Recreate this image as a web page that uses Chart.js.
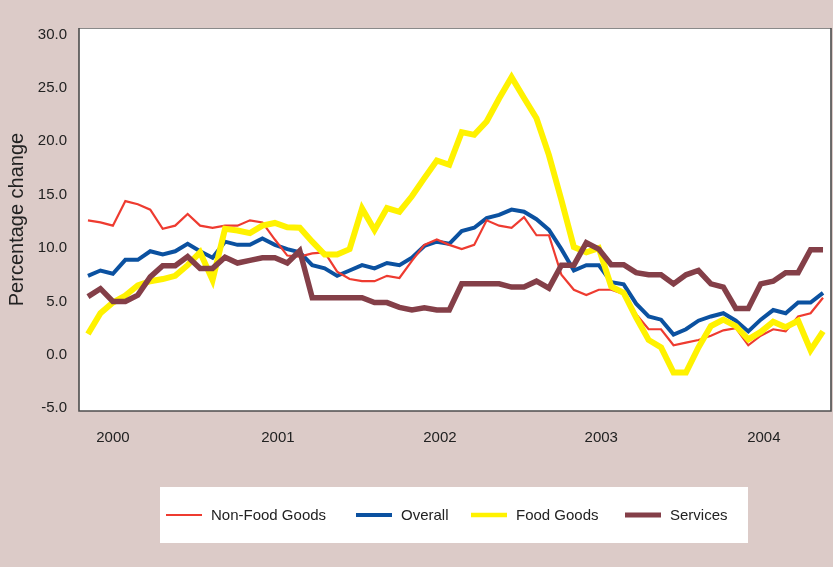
<!DOCTYPE html>
<html>
<head>
<meta charset="utf-8">
<script src="https://cdn.jsdelivr.net/npm/chart.js@4.4.1/dist/chart.umd.min.js"></script>
<style>
  html, body { margin: 0; padding: 0; background: #dccbc8; }
  #wrap { width: 833px; height: 567px; }
</style>
</head>
<body>
<div id="wrap"><canvas id="chart" width="833" height="567"></canvas></div>
<script>
// monthly series, 60 points
const nonFood = [12.6, 12.4, 12.1, 14.4, 14.1, 13.6, 11.8, 12.1, 13.2, 12.1, 11.9, 12.1, 12.1, 12.6, 12.4,
  10.8, 9.3, 9.2, 9.5, 9.6, 7.8, 7.1, 6.9, 6.9, 7.4, 7.2, 8.8, 10.3, 10.8, 10.3, 9.9, 10.3,
  12.6, 12.1, 11.9, 12.9, 11.2, 11.2, 7.5, 6.1, 5.6, 6.1, 6.1, 5.7, 3.8, 2.4, 2.4, 0.9, 1.15, 1.4,
  1.8, 2.3, 2.5, 0.9, 1.8, 2.4, 2.2, 3.6, 3.9, 5.35];
const overall = [7.4, 7.9, 7.6, 8.9, 8.9, 9.7, 9.4, 9.7, 10.4, 9.7, 9.1, 10.6, 10.3, 10.3, 10.9, 10.3,
  9.9, 9.6, 8.4, 8.1, 7.4, 7.9, 8.4, 8.1, 8.6, 8.4, 9.1, 10.2, 10.6, 10.4, 11.6, 11.9, 12.8, 13.1,
  13.6, 13.4, 12.7, 11.7, 9.9, 7.9, 8.4, 8.4, 6.8, 6.6, 4.8, 3.6, 3.3, 1.9, 2.4, 3.2, 3.6, 3.9,
  3.2, 2.2, 3.3, 4.2, 3.9, 4.9, 4.9, 5.8];
const foodGoods = [1.95, 3.9, 4.9, 5.55, 6.5, 6.9, 7.1, 7.4, 8.4, 9.6, 7.0, 11.8, 11.65, 11.4, 12.1,
  12.35, 11.95, 11.9, 10.6, 9.4, 9.4, 9.9, 13.7, 11.7, 13.75, 13.4, 14.85, 16.55, 18.2, 17.8,
  20.85, 20.6, 21.85, 24.0, 26.0, 24.05, 22.15, 18.7, 14.5, 10.1, 9.6, 10.0, 6.4, 5.8, 3.5, 1.4,
  0.7, -1.65, -1.65, 0.7, 2.7, 3.3, 2.7, 1.45, 2.15, 3.1, 2.6, 3.2, 0.45, 2.2];
const services = [5.45, 6.2, 5.0, 5.0, 5.6, 7.3, 8.35, 8.35, 9.2, 8.1, 8.1, 9.15, 8.6, 8.85, 9.1, 9.1,
  8.6, 9.75, 5.35, 5.35, 5.35, 5.35, 5.35, 4.9, 4.9, 4.45, 4.2, 4.4, 4.2, 4.2, 6.65, 6.65, 6.65,
  6.65, 6.35, 6.35, 6.9, 6.25, 8.4, 8.4, 10.5, 9.9, 8.45, 8.45, 7.7, 7.5, 7.5, 6.65, 7.5, 7.9,
  6.65, 6.35, 4.35, 4.35, 6.65, 6.9, 7.7, 7.7, 9.85, 9.85];

const yearLabels = ['2000', '2001', '2002', '2003', '2004'];
const yearTickPos = [2, 15.25, 28.25, 41.2, 54.25];
const yTicks = [-5, 0, 5, 10, 15, 20, 25, 30];

const textFont = { family: '"Liberation Sans", Arial, sans-serif', size: 15 };

const toXY = arr => arr.map((v, i) => ({ x: i, y: v }));

// pink page, white plot box with a dark frame
const plotBox = {
  id: 'plotBox',
  beforeDraw(chart) {
    const { ctx, chartArea: a } = chart;
    ctx.save();
    ctx.fillStyle = '#dccbc8';
    ctx.fillRect(0, 0, chart.width, chart.height);
    ctx.fillStyle = '#fff';
    ctx.fillRect(a.left, a.top, a.right - a.left, a.bottom - a.top);
    ctx.restore();
  },
  afterDatasetsDraw(chart) {
    const { ctx, chartArea: a } = chart;
    ctx.save();
    ctx.strokeStyle = '#8a8a8a';
    ctx.lineWidth = 1;
    ctx.beginPath();
    ctx.moveTo(a.left, a.top + 0.5);
    ctx.lineTo(a.right, a.top + 0.5);
    ctx.stroke();
    ctx.strokeStyle = '#4d4d4d';
    ctx.lineWidth = 1.6;
    ctx.beginPath();
    ctx.moveTo(a.left, a.top);
    ctx.lineTo(a.left, a.bottom);
    ctx.lineTo(a.right, a.bottom);
    ctx.lineTo(a.right, a.top);
    ctx.stroke();
    ctx.restore();
  }
};

// legend in a white strip under the chart
const legendBox = {
  id: 'legendBox',
  afterDraw(chart, args, opts) {
    const ctx = chart.ctx;
    ctx.save();
    ctx.fillStyle = '#fff';
    ctx.fillRect(opts.x, opts.y, opts.w, opts.h);
    const cy = opts.y + opts.h / 2;
    ctx.font = textFont.size + 'px ' + textFont.family;
    ctx.textBaseline = 'middle';
    ctx.textAlign = 'left';
    chart.data.datasets.forEach((ds, i) => {
      const x0 = opts.starts[i];
      ctx.strokeStyle = ds.borderColor;
      ctx.lineWidth = opts.widths[i];
      ctx.beginPath();
      ctx.moveTo(x0, cy);
      ctx.lineTo(x0 + opts.sample, cy);
      ctx.stroke();
      ctx.fillStyle = '#222';
      ctx.fillText(ds.label, x0 + opts.sample + opts.gap, cy + 1);
    });
    ctx.restore();
  }
};

new Chart(document.getElementById('chart'), {
  type: 'line',
  data: {
    datasets: [
      { label: 'Non-Food Goods', data: toXY(nonFood), borderColor: '#ee3b30', borderWidth: 2.2, order: 2 },
      { label: 'Overall', data: toXY(overall), borderColor: '#0b51a0', borderWidth: 4, order: 3 },
      { label: 'Food Goods', data: toXY(foodGoods), borderColor: '#fff200', borderWidth: 6, order: 1 },
      { label: 'Services', data: toXY(services), borderColor: '#843f48', borderWidth: 5.5, order: 0 }
    ]
  },
  options: {
    responsive: false,
    animation: false,
    layout: { padding: { top: 28, right: 2, left: 0, bottom: 0 } },
    elements: {
      point: { radius: 0 },
      line: { tension: 0, borderJoinStyle: 'miter', borderCapStyle: 'butt' }
    },
    plugins: {
      legend: { display: false },
      tooltip: { enabled: false },
      legendBox: {
        x: 160, y: 487, w: 588, h: 56,
        starts: [166, 356, 471, 625],
        widths: [2, 4, 4.5, 5],
        sample: 36, gap: 9
      }
    },
    scales: {
      x: {
        type: 'linear',
        min: -0.72,
        max: 59.64,
        afterBuildTicks: s => { s.ticks = yearTickPos.map(v => ({ value: v })); },
        afterFit: s => { s.height = 156; },
        grid: { display: false, drawTicks: false },
        border: { display: false },
        ticks: {
          autoSkip: false,
          maxRotation: 0,
          padding: 18,
          color: '#222',
          font: textFont,
          callback: (v, i) => yearLabels[i]
        }
      },
      y: {
        min: -5.25,
        max: 30.6,
        afterBuildTicks: s => { s.ticks = yTicks.map(v => ({ value: v })); },
        afterFit: s => { s.width = 79; },
        grid: { display: false, drawTicks: false },
        border: { display: false },
        ticks: {
          padding: 12,
          color: '#222',
          font: textFont,
          callback: v => v.toFixed(1)
        },
        title: {
          display: true,
          text: 'Percentage change',
          color: '#222',
          padding: { top: 5 },
          font: { family: '"Liberation Sans", Arial, sans-serif', size: 20 }
        }
      }
    }
  },
  plugins: [plotBox, legendBox]
});
</script>
</body>
</html>
